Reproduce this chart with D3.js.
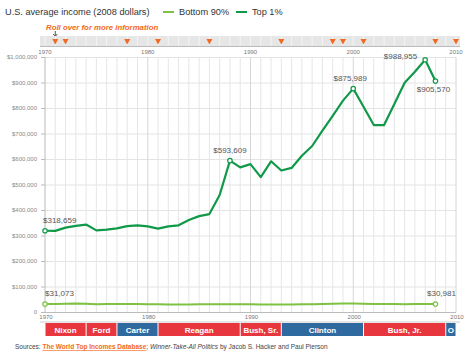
<!DOCTYPE html>
<html>
<head>
<meta charset="utf-8">
<script src="https://cdn.jsdelivr.net/npm/d3@7"></script>
<style>
  body { margin: 0; background: #fff; }
  svg { font-family: "Liberation Sans", Arial, sans-serif; }
</style>
</head>
<body>
<div id="chart"></div>
<script>
// ---- data ----
const years = d3.range(1970, 2009);
const top1 = [318659, 318000, 331000, 338000, 343000, 320000, 323000, 328000, 337000, 340000,
              336000, 327000, 336000, 340000, 361000, 376000, 384000, 459000, 593609, 567000,
              580000, 529000, 591000, 555000, 565000, 613000, 651000, 711000, 769000, 829000,
              875989, 805000, 733000, 733000, 816000, 899000, 942000, 988955, 905570];
const bottom90 = [31073, 31000, 32300, 33000, 32000, 30800, 31100, 31300, 31800, 31500,
                  30800, 30300, 29500, 29300, 29800, 30000, 30500, 30400, 30600, 30800,
                  30400, 29800, 29600, 29400, 29700, 30200, 30600, 31500, 32500, 33200,
                  33600, 32800, 31600, 30900, 30900, 30800, 31200, 31500, 30981];
const yTicks = [0, 100000, 200000, 300000, 400000, 500000, 600000, 700000, 800000, 900000, 1000000];
const decadeTicks = [1970, 1980, 1990, 2000, 2010];
const eventYears = [1971, 1972, 1978, 1981, 1986, 1993, 1998, 1999, 2001, 2008, 2010];
const presidents = ["Nixon", "Ford", "Carter", "Reagan", "Bush, Sr.", "Clinton", "Bush, Jr.", "O"];
const presStart = [1970, 1974, 1977, 1981, 1989, 1993, 2001, 2009];
const presEnd = [1974, 1977, 1981, 1989, 1993, 2001, 2009, 2010];
const presParty = ["R", "R", "D", "R", "R", "D", "R", "D"];
// labelled points: [series, year, anchor, dx, dy]
const callouts = [
  ["top", 1970, "start", -2, -8],
  ["top", 1988, "middle", 0, -8],
  ["top", 2000, "middle", -3, -8],
  ["top", 2007, "end", -8, -1],
  ["top", 2008, "middle", -2, 11],
  ["bottom", 1970, "start", 0, -8],
  ["bottom", 2008, "middle", 6, -8]
];

const width = 467, height = 352;
const colTop = "#11994a", colBottom = "#7ec143";
const orange = "#f26a21", red = "#e8363e", blue = "#2e6aa0";

const svg = d3.select('#chart')
    .append('svg')
    .attr('width', width)
    .attr('height', height);

const x = d3.scaleLinear().domain([1970, 2010]).range([45, 456]);
const y = d3.scaleLinear().domain([0, 1000000]).range([312, 57]);

// title + legend
svg.append('text')
    .attr('x', 5).attr('y', 15)
    .attr('font-size', 9.2)
    .attr('fill', '#333')
    .text('U.S. average income (2008 dollars)');

const legend = [["Bottom 90%", colBottom, 163], ["Top 1%", colTop, 236]];
legend.forEach(([label, col, lx]) => {
    svg.append('line')
        .attr('x1', lx).attr('x2', lx + 11)
        .attr('y1', 12).attr('y2', 12)
        .attr('stroke', col).attr('stroke-width', 2);
    svg.append('text')
        .attr('x', lx + 16).attr('y', 15)
        .attr('font-size', 9.2)
        .attr('fill', '#333')
        .text(label);
});

// roll over note
svg.append('text')
    .attr('x', 46).attr('y', 29.5)
    .attr('font-size', 7.8)
    .attr('font-weight', 'bold')
    .attr('font-style', 'italic')
    .attr('fill', orange)
    .text('Roll over for more information');

// cursor arrow
svg.append('path')
    .attr('d', `M${x(1971)},31 V36 M${x(1971) - 2},34 L${x(1971)},36.5 L${x(1971) + 2},34`)
    .attr('stroke', '#555').attr('stroke-width', 1).attr('fill', 'none');

// timeline band
svg.append('rect')
    .attr('x', 40).attr('y', 36)
    .attr('width', 420).attr('height', 10)
    .attr('fill', '#e6e6e6');
svg.selectAll('.band-div')
    .data(d3.range(1970, 2011))
    .join('line')
    .attr('class', 'band-div')
    .attr('x1', d => x(d)).attr('x2', d => x(d))
    .attr('y1', 36).attr('y2', 46)
    .attr('stroke', '#f4f4f4').attr('stroke-width', 1);
svg.append('line')
    .attr('x1', 40).attr('x2', 460)
    .attr('y1', 46.5).attr('y2', 46.5)
    .attr('stroke', '#bbb');

svg.selectAll('.event')
    .data(eventYears)
    .join('path')
    .attr('class', 'event')
    .attr('d', d => `M${x(d) - 3},39 L${x(d) + 3},39 L${x(d)},44.5 Z`)
    .attr('fill', orange);

svg.selectAll('.top-year')
    .data(decadeTicks)
    .join('text')
    .attr('class', 'top-year')
    .attr('x', d => x(d)).attr('y', 54)
    .attr('text-anchor', 'middle')
    .attr('font-size', 6)
    .attr('fill', '#777')
    .text(d => d);

// grid
const g = svg.append('g');
g.selectAll('.hgrid')
    .data(yTicks)
    .join('line')
    .attr('class', 'hgrid')
    .attr('x1', x(1970)).attr('x2', x(2010))
    .attr('y1', d => y(d) + 0.5).attr('y2', d => y(d) + 0.5)
    .attr('stroke', '#e4e4e4');
g.selectAll('.vgrid')
    .data(d3.range(1971, 2011))
    .join('line')
    .attr('class', 'vgrid')
    .attr('x1', d => x(d)).attr('x2', d => x(d))
    .attr('y1', y(1000000)).attr('y2', y(0))
    .attr('stroke', d => d % 10 === 0 ? '#d6d6d6' : '#e6e6e6');

// axis lines
g.append('line')
    .attr('x1', x(1970)).attr('x2', x(1970))
    .attr('y1', y(1000000)).attr('y2', y(0))
    .attr('stroke', '#bbb');
g.append('line')
    .attr('x1', x(1970)).attr('x2', x(2010))
    .attr('y1', y(0) + 0.5).attr('y2', y(0) + 0.5)
    .attr('stroke', '#bbb');

g.selectAll('.ytick')
    .data(yTicks)
    .join('line')
    .attr('class', 'ytick')
    .attr('x1', x(1970) - 4).attr('x2', x(1970))
    .attr('y1', d => y(d) + 0.5).attr('y2', d => y(d) + 0.5)
    .attr('stroke', '#bbb');

g.selectAll('.ylabel')
    .data(yTicks)
    .join('text')
    .attr('class', 'ylabel')
    .attr('x', 37).attr('y', d => y(d) + 2)
    .attr('text-anchor', 'end')
    .attr('font-size', 6)
    .attr('fill', '#888')
    .text(d => d === 0 ? '0' : d3.format('$,')(d));

g.selectAll('.xlabel')
    .data(decadeTicks)
    .join('text')
    .attr('class', 'xlabel')
    .attr('x', d => x(d) + 1).attr('y', 318.5)
    .attr('text-anchor', 'middle')
    .attr('font-size', 6)
    .attr('fill', '#777')
    .text(d => d);

// lines
const line = d3.line()
    .x(d => x(d[0]))
    .y(d => y(d[1]));

const seriesData = {
    top: years.map((yr, i) => [yr, top1[i]]),
    bottom: years.map((yr, i) => [yr, bottom90[i]])
};

g.append('path')
    .datum(seriesData.bottom)
    .attr('d', line)
    .attr('fill', 'none')
    .attr('stroke', colBottom)
    .attr('stroke-width', 2);

g.append('path')
    .datum(seriesData.top)
    .attr('d', line)
    .attr('fill', 'none')
    .attr('stroke', colTop)
    .attr('stroke-width', 2.2)
    .attr('stroke-linejoin', 'round');

// callouts
callouts.forEach(([s, yr, anchor, dx, dy]) => {
    const v = seriesData[s][yr - 1970][1];
    const col = s === 'top' ? colTop : colBottom;
    g.append('circle')
        .attr('cx', x(yr)).attr('cy', y(v))
        .attr('r', 2.2)
        .attr('fill', '#fff')
        .attr('stroke', col)
        .attr('stroke-width', 1.2);
    g.append('text')
        .attr('x', x(yr) + dx).attr('y', y(v) + dy)
        .attr('text-anchor', anchor)
        .attr('font-size', 8)
        .attr('fill', '#555')
        .text(d3.format('$,')(v));
});

// presidents bar
svg.append('line')
    .attr('x1', 40).attr('x2', 460)
    .attr('y1', 322).attr('y2', 322)
    .attr('stroke', '#ccc');

const pres = svg.selectAll('.pres')
    .data(presidents.map((name, i) => ({ name, s: presStart[i], e: presEnd[i], p: presParty[i] })))
    .join('g')
    .attr('class', 'pres');

pres.append('rect')
    .attr('x', d => x(d.s) + 0.5)
    .attr('y', 323)
    .attr('width', d => x(d.e) - x(d.s) - 1)
    .attr('height', 13)
    .attr('fill', d => d.p === 'R' ? red : blue);

pres.append('text')
    .attr('x', d => (x(d.s) + x(d.e)) / 2)
    .attr('y', 332.5)
    .attr('text-anchor', 'middle')
    .attr('font-size', 8)
    .attr('font-weight', 'bold')
    .attr('fill', '#fff')
    .text(d => d.name);

// sources
const src = svg.append('text')
    .attr('x', 15).attr('y', 349)
    .attr('font-size', 6.5)
    .attr('fill', '#444');
src.append('tspan').text('Sources: ');
src.append('tspan')
    .attr('fill', orange)
    .attr('font-weight', 'bold')
    .attr('text-decoration', 'underline')
    .text('The World Top Incomes Database');
src.append('tspan').text('; ');
src.append('tspan').attr('font-style', 'italic').text('Winner-Take-All Politics');
src.append('tspan').text(' by Jacob S. Hacker and Paul Pierson');
</script>
</body>
</html>
